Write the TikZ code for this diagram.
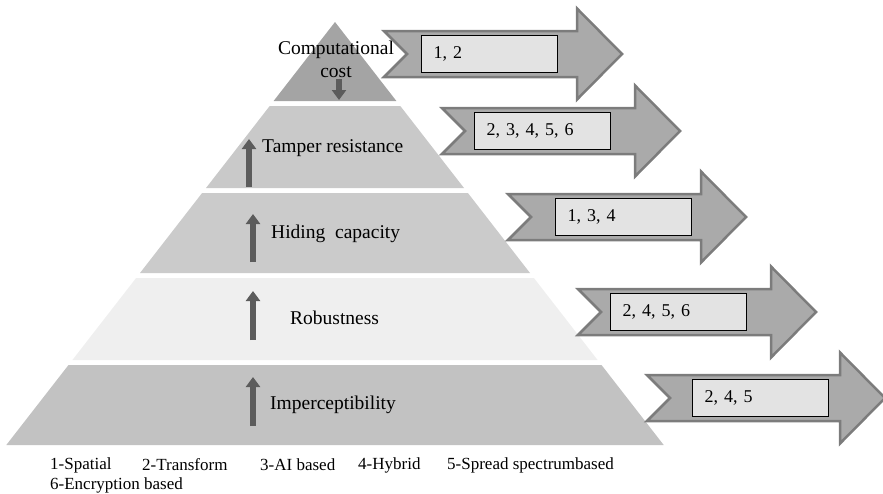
\documentclass[tikz,border=0pt]{standalone}
\usepackage{fontspec}
\setmainfont{Liberation Serif}
\usetikzlibrary{arrows.meta}

\definecolor{tierTop}{HTML}{A4A4A4}
\definecolor{tierTamper}{HTML}{C9C9C9}
\definecolor{tierHiding}{HTML}{CBCBCB}
\definecolor{tierRobust}{HTML}{EFEFEF}
\definecolor{tierImperc}{HTML}{C2C2C2}
\definecolor{trendDark}{HTML}{5C5C5C}
\definecolor{ribbonFill}{HTML}{AAAAAA}
\definecolor{ribbonEdge}{HTML}{7C7C7C}
\definecolor{boxFill}{HTML}{E3E3E3}

\tikzset{
  tierlabel/.style={anchor=west, inner sep=0pt, font=\fontsize{19.5}{22}\selectfont},
  trend/.style={draw=trendDark, line width=6pt, -{Triangle[length=10pt,width=14pt]}},
  ribbon/.pic={
    \filldraw[fill=ribbonFill, draw=ribbonEdge, line width=2.5pt, line join=miter]
      (0,-23) -- (193,-23) -- (193,-45.5) -- (238,0) -- (193,45.5)
      -- (193,23) -- (0,23) -- (23,0) -- cycle;
  },
  listbox/.style={draw=black, line width=1.2pt, fill=boxFill, anchor=west,
    minimum width=136pt, minimum height=37pt, inner xsep=12pt, inner ysep=0pt,
    text width=112pt, align=left, font=\fontsize{18}{20}\selectfont},
  legend/.style={anchor=west, inner sep=0pt, font=\fontsize{17}{19}\selectfont}
}

\begin{document}
\begin{tikzpicture}[x=1pt,y=-1pt]
\useasboundingbox (0,0) rectangle (883,493);

% pyramid tiers (apex at x=335, y=22)
\fill[tierTop]    (335,22) -- (396.4,101) -- (273.6,101) -- cycle;
\fill[tierTamper] (269.7,106) -- (400.3,106) -- (464,188) -- (206,188) -- cycle;
\fill[tierHiding] (202.1,193) -- (467.9,193) -- (530,273) -- (140,273) -- cycle;
\fill[tierRobust] (136.1,278) -- (533.9,278) -- (597.6,360) -- (72.4,360) -- cycle;
\fill[tierImperc] (68.5,365) -- (601.5,365) -- (663.7,445) -- (6.3,445) -- cycle;

% trend arrows inside the tiers
\coordinate (costA) at (339,79);  \coordinate (costB) at (339,100);
\coordinate (tampA) at (249,187); \coordinate (tampB) at (249,139);
\coordinate (hideA) at (253,262); \coordinate (hideB) at (253,214);
\coordinate (robA)  at (253,340); \coordinate (robB)  at (253,291);
\coordinate (impA)  at (253,426); \coordinate (impB)  at (253,377);
\draw[trend] (costA) -- (costB);
\draw[trend] (tampA) -- (tampB);
\draw[trend] (hideA) -- (hideB);
\draw[trend] (robA) -- (robB);
\draw[trend] (impA) -- (impB);

% tier labels
\node[align=center, inner sep=0pt, font=\fontsize{19.5}{23}\selectfont] (cost) at (336,59) {Computational\\cost};
\node[tierlabel] (tamper) at (262,148) {Tamper resistance};
\node[tierlabel] (hiding) at (271,234) {Hiding\ \ capacity};
\node[tierlabel] (robust) at (290,318) {Robustness};
\node[tierlabel] (imperc) at (270,405) {Imperceptibility};

% ribbons listing the techniques for each property
\pic at (384,54)  {ribbon};
\pic at (442,131) {ribbon};
\pic at (508,217) {ribbon};
\pic at (578,312) {ribbon};
\pic at (647,398) {ribbon};

\node[listbox] (listA) at (421,54)  {1, 2};
\node[listbox] (listB) at (474,131) {2, 3, 4, 5, 6};
\node[listbox] (listC) at (555,217) {1, 3, 4};
\node[listbox] (listD) at (610,312) {2, 4, 5, 6};
\node[listbox] (listE) at (692,398) {2, 4, 5};

% legend
\node[legend] (lg1) at (50,465)  {1-Spatial};
\node[legend] (lg2) at (142,465) {2-Transform};
\node[legend] (lg3) at (260,465) {3-AI based};
\node[legend] (lg4) at (358,465) {4-Hybrid};
\node[legend] (lg5) at (447,465) {5-Spread spectrumbased};
\node[legend] (lg6) at (50,485)  {6-Encryption based};
\end{tikzpicture}
\end{document}
